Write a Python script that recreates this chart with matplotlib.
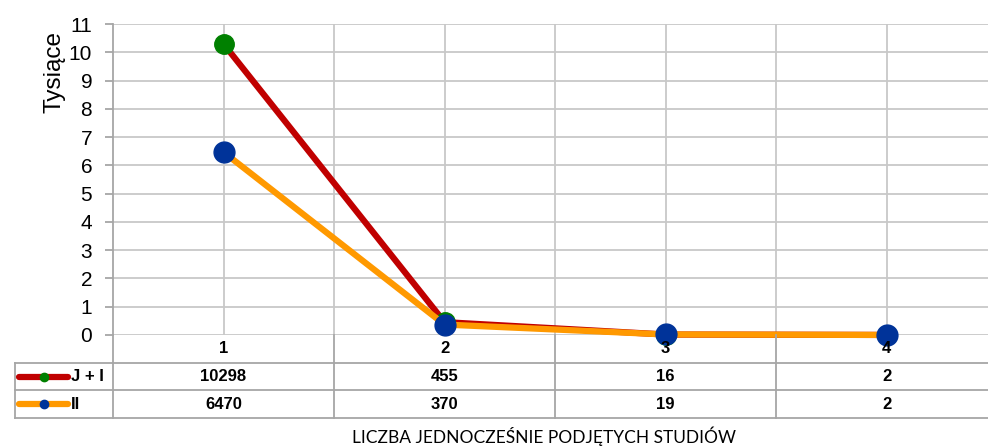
import numpy as np
import matplotlib
matplotlib.use("Agg")
import matplotlib.pyplot as plt
from matplotlib.lines import Line2D

# ----------------------------- data ------------------------------------
categories = ["1", "2", "3", "4"]
series_names = ["J + I", "II"]
ji_values = [10298, 455, 16, 2]
ii_values = [6470, 370, 19, 2]

plt.rcParams['font.family'] = ['Liberation Sans', 'DejaVu Sans']

W, H = 988, 446
fig = plt.figure(figsize=(W / 100, H / 100), dpi=100)

# pixel geometry of the plot area
x_left, x_right = 113, 997
y_top, y_zero, y_tab = 24, 335, 418

ax = fig.add_axes([x_left / W, 1 - y_zero / H, (x_right - x_left) / W, (y_zero - y_top) / H])
tab = fig.add_axes([x_left / W, 1 - y_tab / H, (x_right - x_left) / W, (y_tab - y_zero) / H])

x = np.arange(1, len(categories) + 1)
ji = np.array(ji_values) / 1000.0
ii = np.array(ii_values) / 1000.0

grid_c = '#c8c8c8'
line_c = '#a6a6a6'

# ----------------------------- chart -----------------------------------
ax.set_xlim(0.5, len(categories) + 0.5)
ax.set_ylim(0, 11)
ax.set_yticks(range(0, 12))
for v in range(0, 12):
    ax.axhline(v, color=grid_c, lw=1.3, zorder=0)
for v in np.arange(1, len(categories) + 0.6, 0.5):
    ax.axvline(v, color=grid_c, lw=1.3, zorder=0)

ax.plot(x, ji, color='#c00000', lw=4.5, solid_capstyle='round', zorder=3, clip_on=False)
ax.plot(x, ji, 'o', color='#008000', ms=14, zorder=4, clip_on=False)
ax.plot(x, ii, color='#ff9900', lw=4.5, solid_capstyle='round', zorder=5, clip_on=False)
ax.plot(x, ii, 'o', color='#003399', ms=15, zorder=6, clip_on=False)

for s in ['top', 'right', 'bottom']:
    ax.spines[s].set_visible(False)
ax.spines['left'].set_color(line_c)
ax.spines['left'].set_linewidth(1.3)
ax.tick_params(axis='y', labelsize=15, length=6, width=1.3, color=line_c, pad=9)
ax.tick_params(axis='x', bottom=False, labelbottom=False)
fig.text(54 / W, 1 - 72 / H, 'Tysiące', rotation=90, ha='center', va='center', fontsize=17.5)

# ----------------------------- data table ------------------------------
tab.set_xlim(0.5, len(categories) + 0.5)
tab.set_ylim(0, 3)
tab.axis('off')
px = (x_right - x_left) / len(categories)
x_leg = 0.5 - (x_left - 15) / px

for yy in [0, 1, 2]:
    tab.plot([x_leg, len(categories) + 0.5], [yy, yy], color=line_c, lw=1.3, clip_on=False)
tab.plot([x_leg, x_leg], [0, 2], color=line_c, lw=1.3, clip_on=False)
tab.plot([0.5, 0.5], [0, 3], color=line_c, lw=1.3, clip_on=False)
for b in np.arange(1.5, len(categories) + 0.5, 1):
    tab.plot([b, b], [0, 3], color=line_c, lw=1.3, clip_on=False)

for xi, c in zip(x, categories):
    tab.text(xi, 2.5, c, ha='center', va='center', fontsize=12, fontweight='bold')
for xi, v in zip(x, ji_values):
    tab.text(xi, 1.5, str(v), ha='center', va='center', fontsize=12, fontweight='bold')
for xi, v in zip(x, ii_values):
    tab.text(xi, 0.5, str(v), ha='center', va='center', fontsize=12, fontweight='bold')

# legend keys in the first column
k0 = 0.5 - (x_left - 19) / px
k1 = 0.5 - (x_left - 68) / px
km = (k0 + k1) / 2
tx = 0.5 - (x_left - 71) / px
keys = [('#c00000', '#008000'), ('#ff9900', '#003399')]
for (lc, mc), name, yy in zip(keys, series_names, [1.5, 0.5]):
    tab.add_line(Line2D([k0, k1], [yy, yy], color=lc, lw=4.5, solid_capstyle='round', clip_on=False))
    tab.add_line(Line2D([km], [yy], marker='o', color=mc, ms=6, clip_on=False))
    tab.text(tx, yy, name, ha='left', va='center', fontsize=12, fontweight='bold')

fig.text(544 / W, 1 - 436 / H, 'LICZBA JEDNOCZEŚNIE PODJĘTYCH STUDIÓW',
         ha='center', va='center', fontsize=12.5, family=['Lato', 'DejaVu Sans'])

fig.savefig('out.png', dpi=100)
